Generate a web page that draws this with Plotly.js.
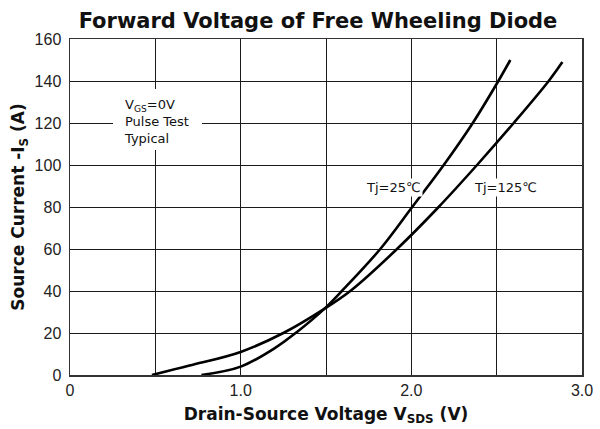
<!DOCTYPE html>
<html>
<head>
<meta charset="utf-8">
<script src="https://cdn.plot.ly/plotly-3.0.1.min.js"></script>
<style>html,body{margin:0;padding:0;background:#fff;}#chart{width:600px;height:429px;}</style>
</head>
<body>
<div id="chart"></div>
<script>
// Tj = 25°C curve
const v25 = [0.77, 1.0, 1.2, 1.33, 1.49, 1.593, 1.818, 2.005, 2.19, 2.36, 2.51, 2.58];
const i25 = [0, 4, 12.8, 20.5, 31.5, 40, 60, 80, 100, 120, 140, 150];
// Tj = 125°C curve
const v125 = [0.48, 0.7, 1.0, 1.25, 1.49, 1.65, 1.916, 2.16, 2.385, 2.6, 2.805, 2.885];
const i125 = [0, 4.5, 11, 20, 31.5, 40.5, 60, 80, 100, 120, 140, 149];

const xTickVals = [0, 1.0, 2.0, 3.0];
const xTickText = ['0', '1.0', '2.0', '3.0'];
const xGridStep = 0.5;
const yTickVals = [0, 20, 40, 60, 80, 100, 120, 140, 160];
const yTickText = ['0', '20', '40', '60', '80', '100', '120', '140', '160'];

const seriesNames = ['Tj=25℃', 'Tj=125℃'];
const labelPos = [[1.898, 89.5], [2.554, 89.5]];
const noteLines = ['V<sub>GS</sub>=0V', 'Pulse Test', 'Typical'];

const SANS = 'Liberation Sans, Arial, Helvetica, sans-serif';
const WIDE = 'DejaVu Sans, Verdana, sans-serif';

const traces = [
  {x: v25, y: i25, name: seriesNames[0], mode: 'lines', line: {color: '#000', width: 2.6, shape: 'spline', smoothing: 1}, hoverinfo: 'skip'},
  {x: v125, y: i125, name: seriesNames[1], mode: 'lines', line: {color: '#000', width: 2.6, shape: 'spline', smoothing: 1}, hoverinfo: 'skip'}
];

const layout = {
  width: 600, height: 429,
  margin: {l: 70, r: 18, t: 39, b: 54},
  paper_bgcolor: '#fff', plot_bgcolor: '#fff',
  showlegend: false,
  font: {family: SANS, color: '#111'},
  title: {
    text: '<b>Forward Voltage of Free Wheeling Diode</b>',
    font: {family: WIDE, size: 21, color: '#111'},
    x: 318/600, xanchor: 'center', xref: 'container',
    y: 1 - 21/429, yanchor: 'middle', yref: 'container'
  },
  xaxis: {
    range: [0, 3], tickmode: 'array', tickvals: xTickVals, ticktext: xTickText,
    showgrid: true, gridcolor: '#1a1a1a', gridwidth: 1,
    minor: {tickmode: 'linear', tick0: 0, dtick: xGridStep, showgrid: true, gridcolor: '#1a1a1a', gridwidth: 1, ticks: ''},
    showline: true, linecolor: '#333', linewidth: 1.5, mirror: true,
    zeroline: false, ticks: '', tickfont: {family: SANS, size: 16, color: '#222'},
    title: {text: '<b>Drain-Source Voltage V<sub>SDS</sub> (V)</b>', font: {family: WIDE, size: 17, color: '#111'}, standoff: 10},
    fixedrange: true
  },
  yaxis: {
    range: [0, 160], tickmode: 'array', tickvals: yTickVals, ticktext: yTickText,
    showgrid: true, gridcolor: '#1a1a1a', gridwidth: 1,
    showline: true, linecolor: '#333', linewidth: 1.5, mirror: true,
    zeroline: false, ticks: '', ticklabelstandoff: 4, tickfont: {family: SANS, size: 16, color: '#222'},
    title: {text: '<b>Source Current -I<sub>S</sub> (A)</b>', font: {family: WIDE, size: 17, color: '#111'}, standoff: 5},
    fixedrange: true
  },
  shapes: [
    {type: 'rect', xref: 'paper', yref: 'paper', layer: 'above',
     x0: (113-70)/512, x1: (202-70)/512, y0: (375-150)/336, y1: (375-89)/336,
     fillcolor: '#fff', line: {width: 0}}
  ],
  annotations: [
    {xref: 'paper', yref: 'paper', x: (122-70)/512, y: (375-121)/336, xanchor: 'left', yanchor: 'middle',
     text: noteLines.join('<br>'), showarrow: false, align: 'left',
     font: {family: WIDE, size: 13, color: '#111'}},
    {x: labelPos[0][0], y: labelPos[0][1], xref: 'x', yref: 'y', text: seriesNames[0], showarrow: false,
     bgcolor: '#fff', borderpad: 1, font: {family: WIDE, size: 13, color: '#111'}},
    {x: labelPos[1][0], y: labelPos[1][1], xref: 'x', yref: 'y', text: seriesNames[1], showarrow: false,
     bgcolor: '#fff', borderpad: 1, font: {family: WIDE, size: 13, color: '#111'}}
  ]
};

Plotly.newPlot('chart', traces, layout, {displayModeBar: false, staticPlot: true});
</script>
</body>
</html>
